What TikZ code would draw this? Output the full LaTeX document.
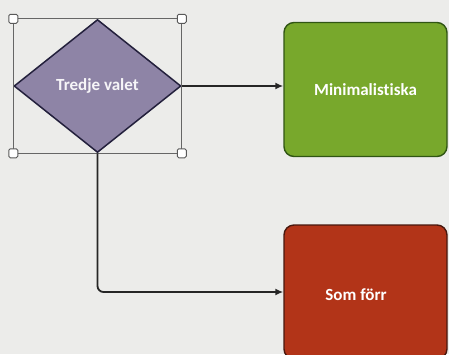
\documentclass[tikz,border=0pt]{standalone}
\usepackage{fontspec}
\setmainfont{Carlito}[Ligatures=NoCommon]
\usetikzlibrary{arrows.meta, shapes.geometric, calc}

\definecolor{bgray}{RGB}{236,236,234}
\definecolor{valet}{RGB}{142,132,166}
\definecolor{valetline}{RGB}{35,32,60}
\definecolor{grön}{RGB}{120,168,44}
\definecolor{grönline}{RGB}{48,85,20}
\definecolor{röd}{RGB}{178,52,24}
\definecolor{rödline}{RGB}{72,24,14}

\tikzset{
  etikett/.style={font=\fontsize{17}{19}\selectfont\bfseries},
  box/.style={draw, line width=1.4pt, rounded corners=10pt, minimum width=163pt,
    minimum height=134pt, text=white, etikett},
  handle/.style={draw=gray!70!black, fill=white, line width=1pt, minimum size=9pt,
    inner sep=0pt, rounded corners=1.5pt},
  pil/.style={-{Latex[length=8pt,width=7pt]}, line width=1.8pt, black!85}
}

\begin{document}
\begin{tikzpicture}[x=1pt, y=-1pt]
        \fill[bgray] (0,0) rectangle (449,354);
        \useasboundingbox (0,0) rectangle (449,354);
        \clip (0,0) rectangle (449,354);

        \node (tredje) at (97.5, 86) [draw=valetline, fill=valet, line width=1.5pt, shape=diamond,
            aspect=1.26, minimum width=167pt, minimum height=133pt, inner sep=0pt,
            text=white!92!valet, etikett] {Tredje valet};

        \node (mini) at (365.5, 89.5) [box, draw=grönline, fill=grön] {Minimalistiska};
        \node (som) at (365.5, 292) [box, draw=rödline, fill=röd] {};
        \node (somtext) at (356, 295) [text=white, etikett] {Som förr};

        % markeringsram
        \coordinate (nw) at (tredje.west |- tredje.north);
        \coordinate (ne) at (tredje.east |- tredje.north);
        \coordinate (sw) at (tredje.west |- tredje.south);
        \coordinate (se) at (tredje.east |- tredje.south);
        \draw[gray!80!black, line width=1.3pt] (nw) rectangle (se);
        \foreach \c in {nw, ne, sw, se}
            \node[handle] (h-\c) at (\c) {};

        \draw[pil] (tredje.east) -- (tredje.east -| mini.west);
        \coordinate (knä) at (tredje.south |- som.west);
        \draw[pil, rounded corners=6pt] (tredje.south) -- (knä) -- (som.west);
    \end{tikzpicture}
\end{document}
